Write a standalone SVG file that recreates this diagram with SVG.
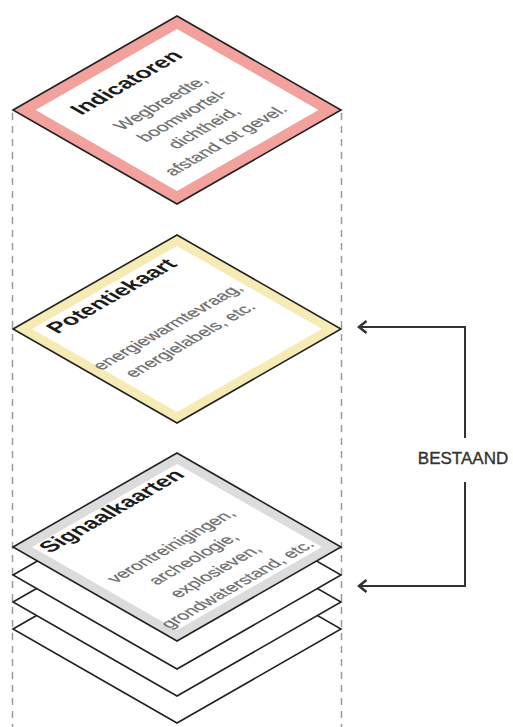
<svg xmlns="http://www.w3.org/2000/svg" width="513" height="727" viewBox="0 0 513 727">
  <style>
    .edge { stroke: #222; stroke-width: 1.6; stroke-linejoin: miter; }
    .inner { fill: #fff; stroke: none; }
    .layer { fill: #fff; stroke: #222; stroke-width: 1.6; }
    .title { font-family: "Liberation Sans", Arial, sans-serif; font-weight: bold; font-size: 22px; fill: #1c1c1c; text-anchor: middle; }
    .body { font-family: "Liberation Sans", Arial, sans-serif; font-size: 17.5px; fill: #6e6e6e; stroke: #6e6e6e; stroke-width: 0.25; text-anchor: middle; }
    .guide { stroke: #9a9a9a; stroke-width: 1.5; stroke-dasharray: 7 6; fill: none; }
    .conn { stroke: #333; stroke-width: 2; fill: none; }
    .label { font-family: "Liberation Sans", Arial, sans-serif; font-size: 17px; fill: #333; stroke: #333; stroke-width: 0.35; text-anchor: middle; }
  </style>
  <defs>
    <marker id="arr" viewBox="-10 -8 12 16" refX="0" refY="0" markerWidth="12" markerHeight="16" markerUnits="userSpaceOnUse" orient="auto">
      <path d="M-7.5,-6 L0,0 L-7.5,6" fill="none" stroke="#333" stroke-width="2.6"/>
    </marker>
  </defs>

  <g id="guides">
    <line class="guide" x1="12.5" y1="113" x2="12.5" y2="727"/>
    <line class="guide" x1="341.5" y1="113" x2="341.5" y2="727"/>
  </g>

  <g id="indicatoren">
    <polygon class="edge" fill="#f2a19d" points="13,110 177,16 341,110 177,204"/>
    <polygon class="inner" points="35.6,110 177,28.9 318.4,110 177,191.1"/>
    <g transform="matrix(0.8677,-0.4974,0.8677,0.4974,13,110)">
      <text class="title" x="93" y="45">Indicatoren</text>
      <text class="body" x="92" y="84">Wegbreedte,</text>
      <text class="body" x="92" y="109">boomwortel-</text>
      <text class="body" x="92" y="134">dichtheid,</text>
      <text class="body" x="92" y="159">afstand tot gevel.</text>
    </g>
  </g>

  <g id="potentiekaart">
    <polygon class="edge" fill="#f6ebb4" points="13,329 177,235 341,329 177,423"/>
    <polygon class="inner" points="32.1,329 177,245.9 321.9,329 177,412.1"/>
    <g transform="matrix(0.8677,-0.4974,0.8677,0.4974,13,329)">
      <text class="title" x="90" y="31">Potentiekaart</text>
      <text class="body" x="91" y="93">energiewarmtevraag,</text>
      <text class="body" x="91" y="119">energielabels, etc.</text>
    </g>
  </g>

  <g id="signaalkaarten">
    <polygon id="layer-3" class="layer" points="13,629 177,535 341,629 177,723"/>
    <polygon id="layer-2" class="layer" points="13,602 177,508 341,602 177,696"/>
    <polygon id="layer-1" class="layer" points="13,575 177,481 341,575 177,669"/>
    <polygon class="edge" fill="#dcdcdc" points="13,547 177,453 341,547 177,641"/>
    <polygon class="inner" points="32.1,547 177,463.9 321.9,547 177,630.1"/>
    <g transform="matrix(0.8677,-0.4974,0.8677,0.4974,13,547)">
      <text class="title" x="93" y="28">Signaalkaarten</text>
      <text class="body" x="92" y="96">verontreinigingen,</text>
      <text class="body" x="92" y="121.5">archeologie,</text>
      <text class="body" x="92" y="147">explosieven,</text>
      <text class="body" x="92" y="172.5">grondwaterstand, etc.</text>
    </g>
  </g>

  <g id="connectors">
    <path class="conn" d="M465,438 V327 H359" marker-end="url(#arr)"/>
    <path class="conn" d="M465,482 V586 H359" marker-end="url(#arr)"/>
  </g>

  <g id="bestaand">
    <text class="label" x="463" y="463.5">BESTAAND</text>
  </g>
</svg>
